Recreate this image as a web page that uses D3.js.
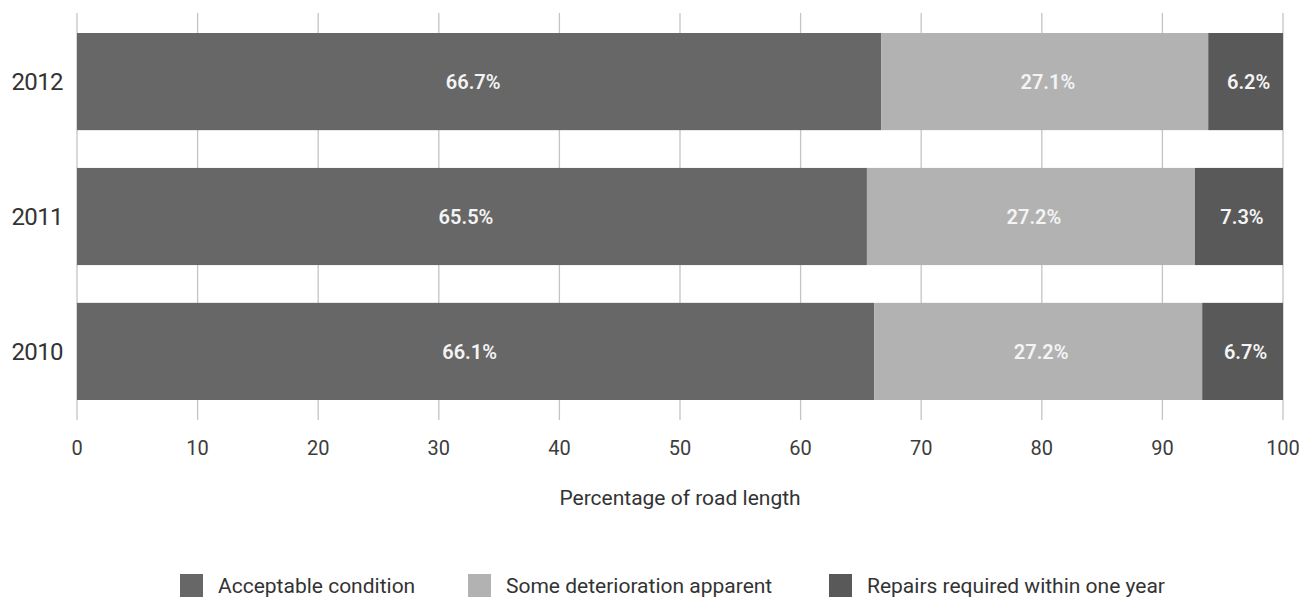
<!DOCTYPE html>
<html>
<head>
<meta charset="utf-8">
<script src="https://cdn.jsdelivr.net/npm/d3@7/dist/d3.min.js"></script>
<style>
  body { margin: 0; background: #fff; }
  svg { display: block; font-family: Roboto, "Liberation Sans", sans-serif; }
</style>
</head>
<body>
<script>
'use strict'

// chart data
const years = ['2012', '2011', '2010'];
const seriesNames = ['Acceptable condition', 'Some deterioration apparent', 'Repairs required within one year'];
const acceptable = [66.7, 65.5, 66.1];
const deterioration = [27.1, 27.2, 27.2];
const repairs = [6.2, 7.3, 6.7];
const xTicks = [0, 10, 20, 30, 40, 50, 60, 70, 80, 90, 100];
const colours = ['#676767', '#b2b2b2', '#595959'];

;(() => {
	const width = 1299, height = 600;
	const plot = { left: 77, right: 1283, top: 33, bottom: 400 };

	const svg = d3.select('body').append('svg')
		.attr('width', width)
		.attr('height', height);

	const x = d3.scaleLinear().domain([0, 100]).range([plot.left, plot.right]);
	const y = d3.scaleBand().domain(years).range([plot.top, plot.bottom])
		.paddingInner(0.28).paddingOuter(0);

	// vertical grid lines, drawn behind the bars
	svg.append('g')
		.selectAll('line')
		.data(xTicks)
		.enter().append('line')
		.attr('x1', d => x(d)).attr('x2', d => x(d))
		.attr('y1', 13).attr('y2', 420)
		.attr('stroke', '#c4c4c4')
		.attr('stroke-width', 1.3);

	// build stacked rows
	const rows = years.map((yr, i) => ({ year: yr, values: [acceptable[i], deterioration[i], repairs[i]] }));
	const stack = d3.stack().keys([0, 1, 2]).value((d, k) => d.values[k]);
	const layers = stack(rows);

	const layerG = svg.append('g')
		.selectAll('g')
		.data(layers)
		.enter().append('g')
		.attr('fill', (d, i) => colours[i]);

	layerG.selectAll('rect')
		.data(d => d)
		.enter().append('rect')
		.attr('x', d => x(d[0]))
		.attr('width', d => x(d[1]) - x(d[0]))
		.attr('y', d => y(d.data.year))
		.attr('height', y.bandwidth());

	layerG.selectAll('text')
		.data(d => d.map(s => ({ s: s, v: s[1] - s[0] })))
		.enter().append('text')
		.attr('x', d => (x(d.s[0]) + x(d.s[1])) / 2 + (d.s[0] === 0 ? -6 : 3))
		.attr('y', d => y(d.s.data.year) + y.bandwidth() / 2)
		.attr('dy', '0.36em')
		.attr('text-anchor', 'middle')
		.attr('fill', '#f4f4f4')
		.style('font-size', '20px')
		.style('font-weight', '600')
		.text(d => d.v.toFixed(1) + '%');

	// year labels
	svg.append('g')
		.selectAll('text')
		.data(years)
		.enter().append('text')
		.attr('x', 63)
		.attr('y', d => y(d) + y.bandwidth() / 2)
		.attr('dy', '0.36em')
		.attr('text-anchor', 'end')
		.attr('fill', '#333')
		.style('font-size', '24px')
		.style('letter-spacing', '-0.6px')
		.text(d => d);

	// x tick labels
	svg.append('g')
		.selectAll('text')
		.data(xTicks)
		.enter().append('text')
		.attr('x', d => x(d))
		.attr('y', 448)
		.attr('dy', '0.36em')
		.attr('text-anchor', 'middle')
		.attr('fill', '#3c3c3c')
		.style('font-size', '20px')
		.text(d => d);

	svg.append('text')
		.attr('x', 680)
		.attr('y', 497)
		.attr('dy', '0.36em')
		.attr('text-anchor', 'middle')
		.attr('fill', '#333')
		.style('font-size', '21px')
		.text('Percentage of road length');

	// legend (nudged up a little so descenders stay inside the page)
	const legendX = [180, 468, 829];
	const leg = svg.append('g')
		.selectAll('g')
		.data(seriesNames)
		.enter().append('g')
		.attr('transform', (d, i) => `translate(${legendX[i]},574)`);

	leg.append('rect')
		.attr('width', 23).attr('height', 23)
		.attr('fill', (d, i) => colours[i]);

	leg.append('text')
		.attr('x', 38)
		.attr('y', 19)
		.attr('fill', '#333')
		.style('font-size', '21px')
		.text(d => d);
})();
</script>
</body>
</html>
